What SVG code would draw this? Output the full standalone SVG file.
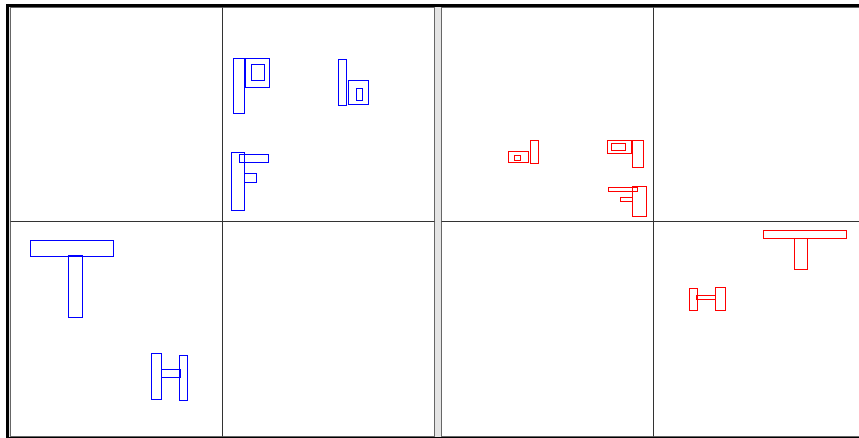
<svg xmlns="http://www.w3.org/2000/svg" width="859" height="438" viewBox="0 0 859 438">
  <style>
    .panel { fill: #ffffff; stroke: #666666; stroke-width: 1; }
    .grid { stroke: #333333; stroke-width: 1; fill: none; }
    .b { fill: none; stroke: #0000ff; stroke-width: 1; }
    .r { fill: none; stroke: #ff0000; stroke-width: 1; }
  </style>
  <rect x="0" y="0" width="859" height="438" fill="#ffffff"/>
  <rect x="6" y="4" width="860" height="440" fill="#000000"/>
  <rect x="9" y="7" width="860" height="430" fill="#e4e4e4"/>
  <g id="left-panel">
    <rect class="panel" x="10.5" y="7.5" width="424" height="429"/>
    <line class="grid" x1="222.5" y1="7.5" x2="222.5" y2="436.5"/>
    <line class="grid" x1="10.5" y1="221.5" x2="434.5" y2="221.5"/>
  </g>
  <g id="right-panel">
    <rect class="panel" x="441.5" y="7.5" width="424" height="429"/>
    <line class="grid" x1="653.5" y1="7.5" x2="653.5" y2="436.5"/>
    <line class="grid" x1="441.5" y1="221.5" x2="865.5" y2="221.5"/>
  </g>
  <g id="blue-P">
    <rect class="b" x="233.5" y="58.5" width="11" height="55"/>
    <rect class="b" x="245.5" y="58.5" width="24" height="29"/>
    <rect class="b" x="251.5" y="64.5" width="13" height="16"/>
  </g>
  <g id="blue-b">
    <rect class="b" x="338.5" y="59.5" width="8" height="46"/>
    <rect class="b" x="348.5" y="80.5" width="20" height="24"/>
    <rect class="b" x="356.5" y="88.5" width="6" height="12"/>
  </g>
  <g id="blue-F">
    <rect class="b" x="231.5" y="152.5" width="13" height="58"/>
    <rect class="b" x="239.5" y="154.5" width="29" height="8"/>
    <rect class="b" x="244.5" y="173.5" width="12" height="9"/>
  </g>
  <g id="blue-T">
    <rect class="b" x="30.5" y="240.5" width="83" height="16"/>
    <rect class="b" x="68.5" y="255.5" width="14" height="62"/>
  </g>
  <g id="blue-H">
    <rect class="b" x="151.5" y="353.5" width="10" height="46"/>
    <rect class="b" x="161.5" y="369.5" width="19" height="8"/>
    <rect class="b" x="179.5" y="355.5" width="8" height="45"/>
  </g>
  <g id="red-P">
    <rect class="r" x="508.5" y="151.5" width="20" height="11"/>
    <rect class="r" x="514.5" y="155.5" width="6" height="5"/>
    <rect class="r" x="530.5" y="140.5" width="8" height="23"/>
  </g>
  <g id="red-b">
    <rect class="r" x="607.5" y="140.5" width="24" height="13"/>
    <rect class="r" x="611.5" y="143.5" width="14" height="7"/>
    <rect class="r" x="632.5" y="140.5" width="11" height="27"/>
  </g>
  <g id="red-F">
    <rect class="r" x="608.5" y="187.5" width="29" height="4"/>
    <rect class="r" x="620.5" y="197.5" width="12" height="4"/>
    <rect class="r" x="632.5" y="186.5" width="14" height="30"/>
  </g>
  <g id="red-T">
    <rect class="r" x="763.5" y="230.5" width="83" height="8"/>
    <rect class="r" x="794.5" y="238.5" width="13" height="31"/>
  </g>
  <g id="red-H">
    <rect class="r" x="689.5" y="288.5" width="8" height="22"/>
    <rect class="r" x="696.5" y="295.5" width="19" height="4"/>
    <rect class="r" x="715.5" y="287.5" width="10" height="23"/>
  </g>
</svg>
